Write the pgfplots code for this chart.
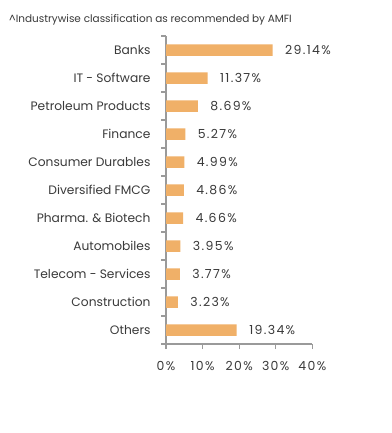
\documentclass[border=0pt]{standalone}
\usepackage{pgfplots}
\pgfplotsset{compat=1.18}
\usepackage{fontspec}
\setmainfont{Poppins}
\newfontfamily\numfont{Poppins}[LetterSpace=11]
\definecolor{barc}{HTML}{F0B068}
\definecolor{axc}{HTML}{9A9A9A}
\definecolor{txt}{HTML}{3A3A3A}
\begin{document}
\begin{tikzpicture}
\path[use as bounding box, fill=white] (0,0) rectangle (392bp,-433bp);
\node[anchor=base west, inner sep=0, font=\fontsize{10.5}{13}\selectfont, text=txt] at (9bp,-22bp) {\textasciicircum Industrywise classification as recommended by AMFI};
\begin{axis}[
  at={(166bp,-344bp)}, anchor=south west,
  scale only axis, width=146.3bp, height=308bp,
  xmin=0, xmax=40, ymin=-0.5, ymax=10.5,
  axis x line=bottom, axis y line=left,
  axis line style={-, draw=axc, line width=1.2bp},
  xtick={0,10,20,30,40},
  xticklabels={0\%,10\%,20\%,30\%,40\%},
  ytick={-0.5,0.5,...,10.5},
  yticklabels={},
  extra y ticks={0,...,10},
  extra y tick labels={Others,Construction,Telecom - Services,Automobiles,Pharma. \& Biotech,Diversified FMCG,Consumer Durables,Finance,Petroleum Products,IT - Software,Banks},
  extra y tick style={tick style={draw=none}},
  tick align=outside,
  major tick length=5bp,
  tick style={draw=axc, line width=1.2bp},
  yticklabel style={font=\fontsize{12.3}{14}\selectfont, text=txt, xshift=-7bp},
  xticklabel style={font=\numfont\fontsize{12.5}{14}\selectfont, text=txt, yshift=-9bp},
  xbar, bar width=11.5bp,
  nodes near coords,
  point meta=explicit symbolic,
  every node near coord/.style={font=\numfont\fontsize{12.5}{14}\selectfont, text=txt, anchor=west, xshift=9bp},
  clip=false,
]
\addplot[fill=barc, draw=none] coordinates {
  (29.14,10) [29.14\%]
  (11.37,9) [11.37\%]
  (8.69,8) [8.69\%]
  (5.27,7) [5.27\%]
  (4.99,6) [4.99\%]
  (4.86,5) [4.86\%]
  (4.66,4) [4.66\%]
  (3.95,3) [3.95\%]
  (3.77,2) [3.77\%]
  (3.23,1) [3.23\%]
  (19.34,0) [19.34\%]
};
\end{axis}
\end{tikzpicture}
\end{document}
